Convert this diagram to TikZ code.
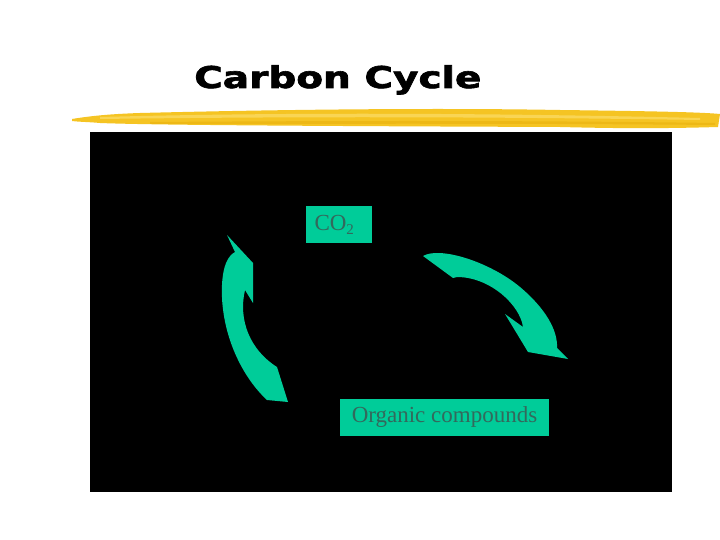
\documentclass[tikz,border=0pt]{standalone}
\usepackage{fontspec}
\setmainfont{Liberation Serif}
\newfontfamily\titlefont[BoldFont={* Bold}, BoldFeatures={FakeBold=2}]{DejaVu Sans}
\definecolor{cyclegreen}{HTML}{00CC99}
\definecolor{labelink}{HTML}{33695C}
\definecolor{brushgold}{HTML}{F5C423}
\definecolor{brushlight}{HTML}{FBDD6A}
\definecolor{brushdark}{HTML}{E8B10E}
\tikzset{
  compound/.style={fill=cyclegreen, text=labelink, inner xsep=9pt,
    minimum height=37pt, font=\fontsize{23}{26}\selectfont},
  turnarrow/.style={fill=cyclegreen}
}
\begin{document}
\begin{tikzpicture}[x=1pt, y=-1pt]
    \useasboundingbox (0,0) rectangle (720,540);
    \fill[white] (0,0) rectangle (720,540);
    % title and brush stroke
    \node[anchor=base west, inner sep=0pt] (title) at (194,88)
      {\scalebox{1.3}[1]{\titlefont\bfseries\fontsize{30}{34}\selectfont Carbon Cycle}};
    \fill[brushgold] (72,119) .. controls (90,116) and (110,114) .. (140,113)
      .. controls (300,109) and (450,108) .. (560,110)
      .. controls (640,111) and (700,112) .. (720,114) -- (718,127)
      .. controls (650,129) and (600,128) .. (560,127)
      .. controls (300,126) and (150,125) .. (100,123)
      .. controls (90,122) and (80,122) .. (72,121) -- cycle;
    \fill[brushlight, opacity=0.7] (100,117) .. controls (250,113) and (450,112) .. (700,118)
      -- (700,120) .. controls (450,116) and (250,117) .. (100,119) -- cycle;
    \fill[brushdark, opacity=0.6] (150,122) .. controls (300,121) and (500,120) .. (715,123)
      -- (715,125) .. controls (500,123) and (300,124) .. (150,124) -- cycle;
    % slide panel
    \fill[black] (90,132) rectangle (672,492);
    \node[compound, text width=48pt, align=left] (co2) at (338.5,224.5)
      {CO\raisebox{-4pt}{\fontsize{15}{16}\selectfont 2}};
    \node[compound, minimum width=209pt] (organic) at (444.5,417.5) {Organic compounds};
    % curved arrows
    \begin{scope}
      \fill[turnarrow] (227,235) -- (253,263) -- (253,303) -- (245,290)
        .. controls (238,320) and (250,350) .. (277,367) -- (288,402) -- (267,400)
        .. controls (240,375) and (220,330) .. (222,285)
        .. controls (223,265) and (228,256) .. (235,252) -- cycle;
      \fill[turnarrow] (423,256) .. controls (440,246) and (490,262) .. (520,287)
        .. controls (545,308) and (558,330) .. (557,348) -- (568,359) -- (528,352)
        -- (505,314) -- (523,327)
        .. controls (520,305) and (490,277) .. (457,277) -- (453,278) -- cycle;
    \end{scope}
  \end{tikzpicture}
\end{document}
